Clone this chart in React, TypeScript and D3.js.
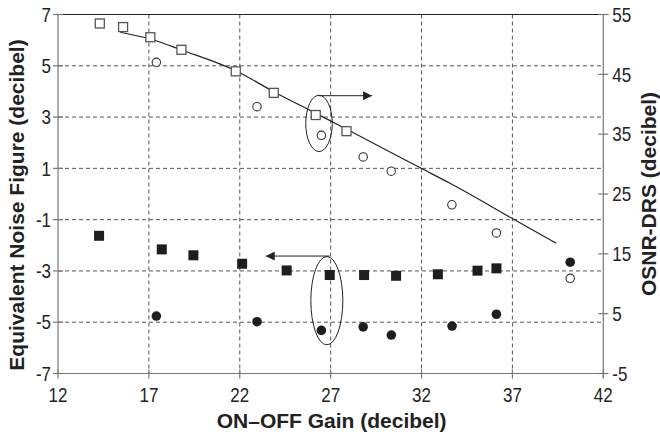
import React, { useEffect, useRef } from 'react';
import * as d3 from 'd3';

// ON-OFF gain (x) for each series
const openSquareX = [14.3, 15.58, 17.08, 18.79, 21.78, 23.87, 26.18, 27.87];
const openSquareY = [53.5, 52.9, 51.2, 49.1, 45.5, 41.9, 38.2, 35.5]; // OSNR-DRS (right axis)

const openCircleX = [17.41, 22.95, 26.49, 28.79, 30.33, 33.67, 36.12, 40.18];
const openCircleY = [47.0, 39.6, 34.8, 31.2, 28.8, 23.2, 18.5, 10.9]; // OSNR-DRS (right axis)

const filledSquareX = [14.26, 17.71, 19.45, 22.13, 24.58, 26.95, 28.84, 30.6, 32.9, 35.08, 36.12];
const filledSquareY = [-1.63, -2.16, -2.39, -2.72, -2.98, -3.16, -3.16, -3.19, -3.13, -2.99, -2.9]; // noise figure (left)

const filledCircleX = [17.41, 22.95, 26.49, 28.79, 30.34, 33.68, 36.12, 40.18];
const filledCircleY = [-4.76, -4.98, -5.32, -5.18, -5.5, -5.15, -4.69, -2.66]; // noise figure (left)

// trend line through the OSNR squares (right axis)
const trendX = [15.43, 17.08, 18.79, 21.78, 23.87, 26.18, 27.89, 31.98, 33.57, 36.97, 39.41];
const trendY = [52.03, 50.9, 49.07, 45.6, 42.1, 38.49, 35.81, 29.29, 26.79, 20.94, 16.76];

const xTicks = [12, 17, 22, 27, 32, 37, 42];
const leftTicks = [7, 5, 3, 1, -1, -3, -5, -7];
const rightTicks = [55, 45, 35, 25, 15, 5, -5];

const W = 660;
const H = 437;
const m = { left: 58, right: 603.3, top: 14.5, bottom: 373.5 };

const tickFont = '"Liberation Sans", Arial, sans-serif';
const titleFont = '"Liberation Sans", Arial, sans-serif';

export default function App() {
  const ref = useRef<SVGSVGElement>(null);

  useEffect(() => {
    const svg = d3.select(ref.current);
    svg.selectAll('*').remove();

    const x = d3.scaleLinear().domain([12, 42]).range([m.left, m.right]);
    const yL = d3.scaleLinear().domain([-7, 7]).range([m.bottom, m.top]);
    const yR = d3.scaleLinear().domain([-5, 55]).range([m.bottom, m.top]);

    // arrow marker
    svg.append('defs').append('marker')
      .attr('id', 'arr')
      .attr('viewBox', '0 0 10 10')
      .attr('refX', 10).attr('refY', 5)
      .attr('markerWidth', 9).attr('markerHeight', 9)
      .attr('markerUnits', 'userSpaceOnUse')
      .attr('orient', 'auto')
      .append('path').attr('d', 'M0,0L10,5L0,10Z').attr('fill', '#222');

    // grid
    const grid = svg.append('g')
      .attr('stroke', '#555').attr('stroke-width', 1).attr('stroke-dasharray', '4,3');
    grid.selectAll('line.v').data(xTicks.slice(1, -1)).join('line')
      .attr('x1', d => x(d)).attr('x2', d => x(d))
      .attr('y1', m.top).attr('y2', m.bottom);
    grid.selectAll('line.h').data(leftTicks.slice(1, -1)).join('line')
      .attr('class', 'h')
      .attr('x1', m.left).attr('x2', m.right)
      .attr('y1', d => yL(d)).attr('y2', d => yL(d));

    // frame: left, right, bottom, top
    const axisColor = '#777';
    const frame = svg.append('g').attr('stroke', axisColor).attr('stroke-width', 1.2);
    frame.append('line').attr('x1', m.left).attr('x2', m.left).attr('y1', m.top).attr('y2', m.bottom);
    frame.append('line').attr('x1', m.right).attr('x2', m.right).attr('y1', m.top).attr('y2', m.bottom + 5);
    frame.append('line').attr('x1', m.left - 5).attr('x2', m.right + 5).attr('y1', m.bottom).attr('y2', m.bottom);
    frame.append('line').attr('x1', m.left - 5).attr('x2', m.right + 5).attr('y1', m.top).attr('y2', m.top).attr('stroke', '#222');

    // ticks
    frame.selectAll('line.lt').data(leftTicks).join('line')
      .attr('class', 'lt')
      .attr('x1', m.left - 5).attr('x2', m.left + 5)
      .attr('y1', d => yL(d)).attr('y2', d => yL(d));
    frame.selectAll('line.rt').data(rightTicks).join('line')
      .attr('class', 'rt')
      .attr('x1', m.right - 5).attr('x2', m.right + 5)
      .attr('y1', d => yR(d)).attr('y2', d => yR(d));
    frame.selectAll('line.xt').data(xTicks).join('line')
      .attr('class', 'xt')
      .attr('x1', d => x(d)).attr('x2', d => x(d))
      .attr('y1', m.bottom - 4).attr('y2', m.bottom + 5);

    // tick labels (slightly condensed, like the original)
    const sx = 0.85;
    const tl = svg.append('g').attr('font-family', tickFont).attr('font-size', 20).attr('fill', '#222');
    tl.selectAll('text.l').data(leftTicks).join('text')
      .attr('class', 'l')
      .attr('transform', d => `translate(${m.left - 7},${yL(d)}) scale(${sx},1)`)
      .attr('dy', '0.36em')
      .attr('text-anchor', 'end').text(d => String(d));
    tl.selectAll('text.r').data(rightTicks).join('text')
      .attr('class', 'r')
      .attr('transform', d => `translate(${m.right + 9},${yR(d)}) scale(${sx},1)`)
      .attr('dy', '0.36em')
      .attr('text-anchor', 'start').text(d => String(d));
    tl.selectAll('text.x').data(xTicks).join('text')
      .attr('class', 'x')
      .attr('transform', d => `translate(${x(d)},${m.bottom + 28}) scale(${sx},1)`)
      .attr('text-anchor', 'middle').text(d => String(d));

    // titles
    const tt = svg.append('g').attr('font-family', titleFont).attr('font-size', 21)
      .attr('font-weight', 'bold').attr('fill', '#222').attr('text-anchor', 'middle');
    tt.append('text').attr('x', (m.left + m.right) / 2 + 1).attr('y', 428).text('ON\u2013OFF Gain (decibel)');
    tt.append('text').attr('transform', `translate(24,${(m.top + m.bottom) / 2 + 11}) rotate(-90)`)
      .text('Equivalent Noise Figure (decibel)');
    tt.append('text').attr('transform', `translate(656,${(m.top + m.bottom) / 2}) rotate(-90)`)
      .text('OSNR-DRS (decibel)');

    // trend line
    const line = d3.line<number>()
      .x((_, i) => x(trendX[i]))
      .y(d => yR(d))
      .curve(d3.curveMonotoneX);
    svg.append('path').datum(trendY).attr('d', line)
      .attr('fill', 'none').attr('stroke', '#222').attr('stroke-width', 1.2);

    // annotations: ellipses and arrows
    const ann = svg.append('g').attr('fill', 'none').attr('stroke', '#222').attr('stroke-width', 1);
    ann.append('ellipse')
      .attr('cx', x(26.36)).attr('cy', yR(36.8))
      .attr('rx', x(26.36 + 0.73) - x(26.36)).attr('ry', yR(36.8) - yR(36.8 + 4.7));
    ann.append('line')
      .attr('x1', x(26.36)).attr('x2', x(29.28)).attr('y1', yR(41.43)).attr('y2', yR(41.43))
      .attr('marker-end', 'url(#arr)');
    ann.append('ellipse')
      .attr('cx', x(26.79)).attr('cy', yL(-4.16))
      .attr('rx', x(26.79 + 0.88) - x(26.79)).attr('ry', yL(-4.16) - yL(-4.16 + 1.72));
    ann.append('line')
      .attr('x1', x(26.95)).attr('x2', x(23.43)).attr('y1', yL(-2.42)).attr('y2', yL(-2.42))
      .attr('marker-end', 'url(#arr)');

    // markers
    const sq = 9;
    svg.append('g').selectAll('rect').data(openSquareX).join('rect')
      .attr('x', d => x(d) - sq / 2).attr('y', (_, i) => yR(openSquareY[i]) - sq / 2)
      .attr('width', sq).attr('height', sq)
      .attr('fill', 'white').attr('stroke', '#555').attr('stroke-width', 1.3);
    svg.append('g').selectAll('circle').data(openCircleX).join('circle')
      .attr('cx', d => x(d)).attr('cy', (_, i) => yR(openCircleY[i])).attr('r', 4.2)
      .attr('fill', 'white').attr('stroke', '#333').attr('stroke-width', 1.1);
    const fs = 10;
    svg.append('g').selectAll('rect').data(filledSquareX).join('rect')
      .attr('x', d => x(d) - fs / 2).attr('y', (_, i) => yL(filledSquareY[i]) - fs / 2)
      .attr('width', fs).attr('height', fs).attr('fill', '#1e1e1e');
    svg.append('g').selectAll('circle').data(filledCircleX).join('circle')
      .attr('cx', d => x(d)).attr('cy', (_, i) => yL(filledCircleY[i])).attr('r', 4.8)
      .attr('fill', '#1e1e1e');
  }, []);

  return (
    <svg ref={ref} width={W} height={H}
      style={{ position: 'absolute', left: 0, top: 0, background: 'white' }} />
  );
}
